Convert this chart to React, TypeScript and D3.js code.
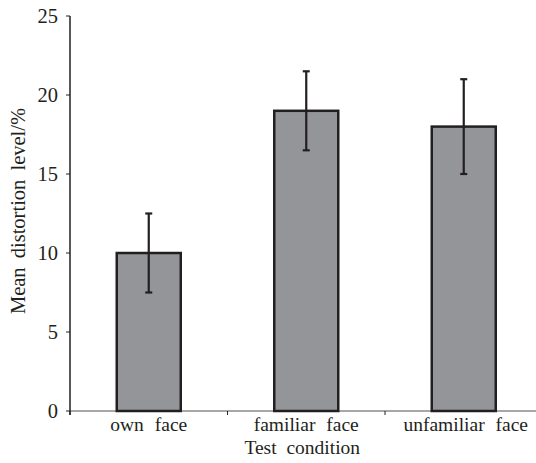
import React from "react";
import * as d3 from "d3";

const categories = ["own face", "familiar face", "unfamiliar face"];
const means = [10, 19, 18];
const errLow = [7.5, 16.5, 15];
const errHigh = [12.5, 21.5, 21];
const yTicks = [0, 5, 10, 15, 20, 25];

export default function App() {
  const W = 536, H = 463;
  const left = 70, top = 16, bottom = 411;
  const bandW = 157.5;
  const x = d3.scaleBand<string>().domain(categories).range([left, left + bandW * 3]).paddingInner(0).paddingOuter(0);
  const y = d3.scaleLinear().domain([0, 25]).range([bottom, top]);
  const barW = 64;
  const font = "'Liberation Serif', 'Times New Roman', serif";
  const dark = "#231f20";
  const fs = 20.5;
  const fx = 19.5;
  return (
    <svg width={W} height={H} style={{ position: "absolute", left: 0, top: 0 }} fontFamily={font}>
      <rect width={W} height={H} fill="#fff" />
      {/* x axis */}
      <line x1={left} x2={W} y1={bottom} y2={bottom} stroke="#8a8a8a" strokeWidth={1.5} />
      {[left, left + bandW, left + 2 * bandW].map((t, i) => (
        <line key={i} x1={t} x2={t} y1={bottom} y2={bottom + 4} stroke={dark} strokeWidth={1} />
      ))}
      {/* bars */}
      {categories.map((c, i) => {
        const cx = (x(c) as number) + x.bandwidth() / 2;
        return (
          <g key={c}>
            <rect x={cx - barW / 2} y={y(means[i])} width={barW} height={bottom - y(means[i])}
              fill="#939598" stroke={dark} strokeWidth={2.5} />
            <line x1={cx} x2={cx} y1={y(errHigh[i])} y2={y(errLow[i])} stroke={dark} strokeWidth={2.2} />
            <line x1={cx - 3.5} x2={cx + 3.5} y1={y(errHigh[i])} y2={y(errHigh[i])} stroke={dark} strokeWidth={2.2} />
            <line x1={cx - 3.5} x2={cx + 3.5} y1={y(errLow[i])} y2={y(errLow[i])} stroke={dark} strokeWidth={2.2} />
            <text x={cx + (i === 2 ? 2 : 0)} y={431} textAnchor="middle" fontSize={fx} fill={dark} wordSpacing={6}>{c}</text>
          </g>
        );
      })}
      {/* y axis */}
      <line x1={left} x2={left} y1={top} y2={bottom + 4} stroke={dark} strokeWidth={1.5} />
      {yTicks.map((t) => (
        <g key={t}>
          <line x1={left - 4} x2={left} y1={y(t)} y2={y(t)} stroke={dark} strokeWidth={1} />
          <text x={left - 12} y={y(t)} dy="0.33em" textAnchor="end" fontSize={fs} fill={dark}>{t}</text>
        </g>
      ))}
      <text x={left + bandW * 1.5 - 4} y={453.5} textAnchor="middle" fontSize={fx} fill={dark} wordSpacing={5}>Test condition</text>
      <text transform={`translate(25, 211) rotate(-90)`} textAnchor="middle" fontSize={fs} fill={dark} wordSpacing={4}>Mean distortion level/%</text>
    </svg>
  );
}
